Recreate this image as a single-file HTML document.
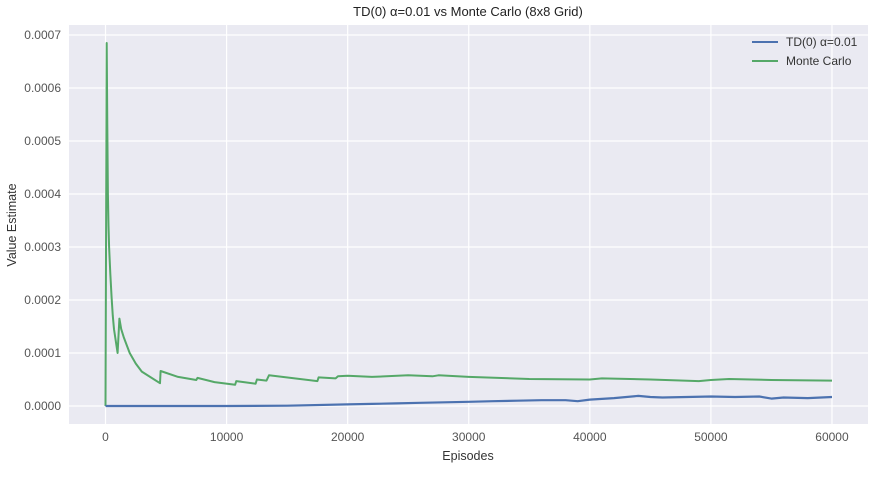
<!DOCTYPE html>
<html><head><meta charset="utf-8"><style>
body{margin:0;background:#fff;font-family:"Liberation Sans",sans-serif;}
svg text{font-family:"Liberation Sans",sans-serif;}
</style></head><body>
<svg id="chart" width="872" height="472" xmlns="http://www.w3.org/2000/svg">
<rect x="0" y="0" width="872" height="472" fill="#fff"/>
<rect x="69" y="25" width="799" height="399" fill="#eaeaf2"/>
<g id="grid"></g>
<g id="ticks"></g>
<g id="series"></g>
<text x="468" y="16" text-anchor="middle" font-size="13" fill="#222">TD(0) α=0.01 vs Monte Carlo (8x8 Grid)</text>
<text x="468" y="460" text-anchor="middle" font-size="12.5" fill="#333">Episodes</text>
<text transform="translate(16,225) rotate(-90)" text-anchor="middle" font-size="12.5" fill="#333">Value Estimate</text>
<g>
<line x1="752" y1="42" x2="778" y2="42" stroke="#4c72b0" stroke-width="2"/>
<text x="786" y="46" font-size="12" fill="#333">TD(0) α=0.01</text>
<line x1="752" y1="61" x2="778" y2="61" stroke="#55a868" stroke-width="2"/>
<text x="786" y="65" font-size="12" fill="#333">Monte Carlo</text>
</g>
</svg>
<script>
const xTicks=[0,10000,20000,30000,40000,50000,60000];
const yTicks=[0,0.0001,0.0002,0.0003,0.0004,0.0005,0.0006,0.0007];
const yTickLabels=["0.0000","0.0001","0.0002","0.0003","0.0004","0.0005","0.0006","0.0007"];
const mcEpisodes=[0,100,150,200,250,300,400,500,600,700,800,900,1000,1150,1300,1500,1700,2000,2500,3000,4500,4550,6000,7500,7600,9000,10700,10800,12400,12500,13300,13500,17500,17600,19000,19200,20000,22000,25000,27000,27500,30000,35000,40000,41000,45000,49000,50000,51500,55000,60000];
const mcValues=[0,6.85,5.3,4.0,3.4,3.0,2.5,2.05,1.7,1.45,1.3,1.15,1.0,1.65,1.45,1.3,1.18,1.0,0.8,0.65,0.43,0.66,0.55,0.49,0.53,0.45,0.40,0.47,0.42,0.50,0.48,0.58,0.47,0.54,0.52,0.56,0.57,0.55,0.58,0.56,0.58,0.55,0.51,0.50,0.52,0.50,0.47,0.49,0.51,0.49,0.48];
const tdEpisodes=[0,5000,10000,15000,20000,22000,24000,26000,28000,30000,32000,34000,36000,38000,39000,40000,42000,44000,45000,46000,48000,50000,52000,54000,55000,56000,58000,60000];
const tdValues=[0,0,0,0.005,0.03,0.04,0.05,0.06,0.07,0.08,0.09,0.10,0.11,0.11,0.09,0.12,0.15,0.19,0.17,0.16,0.17,0.18,0.17,0.18,0.14,0.16,0.15,0.17];
const X=v=>105.5+v*0.012108;
const Y=v=>406-v*530000;
const ns="http://www.w3.org/2000/svg";
const grid=document.getElementById('grid'),ticks=document.getElementById('ticks'),series=document.getElementById('series');
function mk(tag,attrs,parent){const e=document.createElementNS(ns,tag);for(const k in attrs)e.setAttribute(k,attrs[k]);parent.appendChild(e);return e;}
xTicks.forEach(t=>{
  const l=mk('line',{x1:X(t),x2:X(t),y1:25,y2:424,stroke:'#fff','stroke-width':1.2},grid);
  
  
  const tx=mk('text',{x:X(t),y:441,'text-anchor':'middle','font-size':12,fill:'#555'},ticks);
  tx.textContent=t;
  
  
});
yTicks.forEach((t,i)=>{
  const l=mk('line',{x1:69,x2:868,y1:Y(t),y2:Y(t),stroke:'#fff','stroke-width':1.2},grid);
  
  
  const tx=mk('text',{x:61,y:Y(t)+4,'text-anchor':'end','font-size':12,fill:'#555'},ticks);
  tx.textContent=yTickLabels[i];
  
  
});
const mcPts=mcEpisodes.map((e,i)=>X(e).toFixed(1)+','+Y(mcValues[i]*1e-4).toFixed(1)).join(' ');
const mc=mk('polyline',{points:mcPts,fill:'none',stroke:'#55a868','stroke-width':2,'stroke-linejoin':'round'},series);


const tdPts=tdEpisodes.map((e,i)=>X(e).toFixed(1)+','+Y(tdValues[i]*1e-4).toFixed(1)).join(' ');
const td=mk('polyline',{points:tdPts,fill:'none',stroke:'#4c72b0','stroke-width':2.2,'stroke-linejoin':'round'},series);


</script>
</body></html>
